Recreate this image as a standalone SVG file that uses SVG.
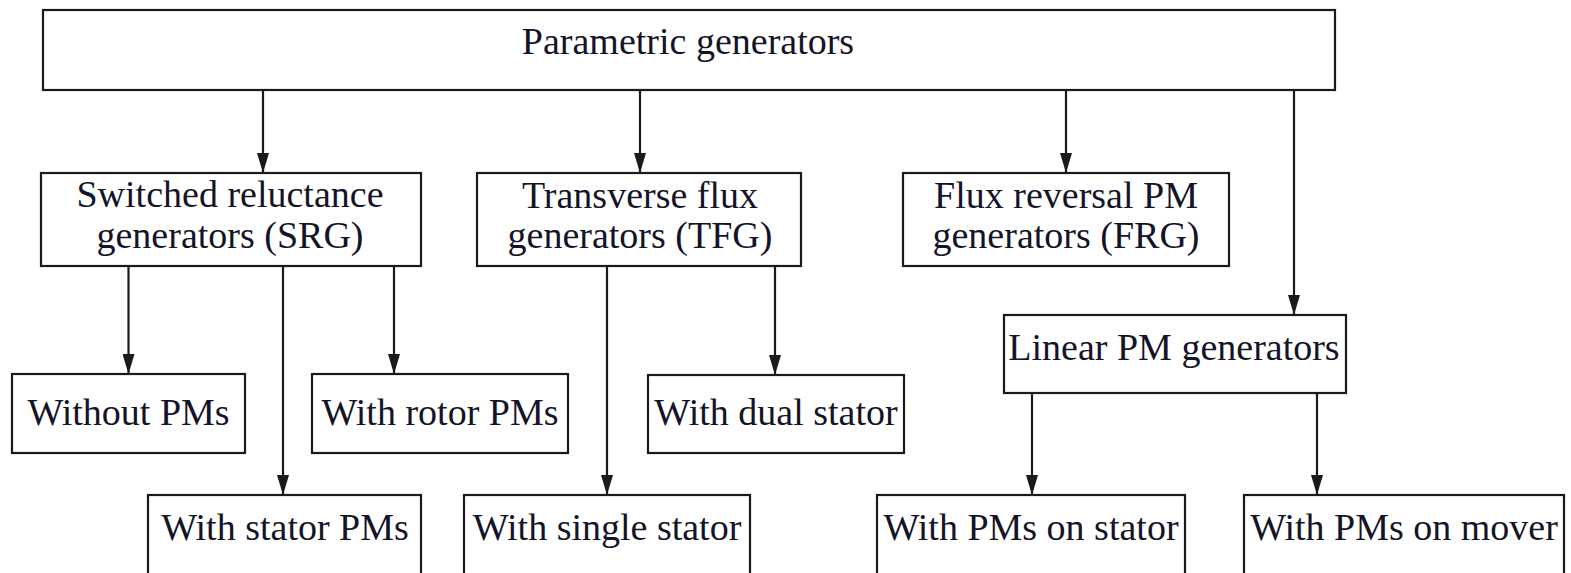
<svg xmlns="http://www.w3.org/2000/svg" width="1571" height="573" viewBox="0 0 1571 573">
<style>
.box{fill:#fff;stroke:#1a1a1a;stroke-width:2.2}
.t{font-family:"Liberation Serif","Times New Roman",serif;font-size:38px;fill:#141428;text-anchor:middle}
.c{stroke:#1a1a1a;stroke-width:2.2;fill:none;marker-end:url(#ah)}
</style>
<defs>
<marker id="ah" viewBox="0 -6 20 12" refX="20" refY="0" markerWidth="20" markerHeight="12" markerUnits="userSpaceOnUse" orient="auto">
<path d="M0,-6 L20,0 L0,6 z" fill="#1a1a1a"/>
</marker>
</defs>
<rect width="1571" height="573" fill="#fff"/>
<g id="connectors">
<line class="c" x1="263" y1="90" x2="263" y2="173"/>
<line class="c" x1="640" y1="90" x2="640" y2="173"/>
<line class="c" x1="1066" y1="90" x2="1066" y2="173"/>
<line class="c" x1="1294" y1="90" x2="1294" y2="315"/>
<line class="c" x1="128.5" y1="266" x2="128.5" y2="374"/>
<line class="c" x1="283" y1="266" x2="283" y2="495"/>
<line class="c" x1="394" y1="266" x2="394" y2="374"/>
<line class="c" x1="607" y1="266" x2="607" y2="495"/>
<line class="c" x1="775" y1="266" x2="775" y2="375"/>
<line class="c" x1="1032" y1="393" x2="1032" y2="495"/>
<line class="c" x1="1317" y1="393" x2="1317" y2="495"/>
</g>
<g id="parametric">
<rect class="box" x="43" y="10" width="1292" height="80"/>
<text class="t" x="688" y="54">Parametric generators</text>
</g>
<g id="srg">
<rect class="box" x="41" y="173" width="380" height="93"/>
<text class="t" x="230" y="207">Switched reluctance</text>
<text class="t" x="230" y="248">generators (SRG)</text>
</g>
<g id="tfg">
<rect class="box" x="477" y="173" width="324" height="93"/>
<text class="t" x="640" y="208">Transverse flux</text>
<text class="t" x="640" y="248">generators (TFG)</text>
</g>
<g id="frg">
<rect class="box" x="903" y="173" width="326" height="93"/>
<text class="t" x="1066" y="208">Flux reversal PM</text>
<text class="t" x="1066" y="248">generators (FRG)</text>
</g>
<g id="linear">
<rect class="box" x="1004" y="315" width="342" height="78"/>
<text class="t" x="1174" y="360">Linear PM generators</text>
</g>
<g id="without-pms">
<rect class="box" x="12" y="374" width="233" height="79"/>
<text class="t" x="128.5" y="425">Without PMs</text>
</g>
<g id="rotor-pms">
<rect class="box" x="312" y="374" width="256" height="79"/>
<text class="t" x="440" y="425">With rotor PMs</text>
</g>
<g id="dual-stator">
<rect class="box" x="648" y="375" width="256" height="78"/>
<text class="t" x="776" y="425">With dual stator</text>
</g>
<g id="stator-pms">
<rect class="box" x="148" y="495" width="273" height="90"/>
<text class="t" x="285" y="540">With stator PMs</text>
</g>
<g id="single-stator">
<rect class="box" x="464" y="495" width="286" height="90"/>
<text class="t" x="607" y="540">With single stator</text>
</g>
<g id="pms-on-stator">
<rect class="box" x="877" y="495" width="308" height="90"/>
<text class="t" x="1031" y="540">With PMs on stator</text>
</g>
<g id="pms-on-mover">
<rect class="box" x="1244" y="495" width="320" height="90"/>
<text class="t" x="1404" y="540">With PMs on mover</text>
</g>
</svg>
